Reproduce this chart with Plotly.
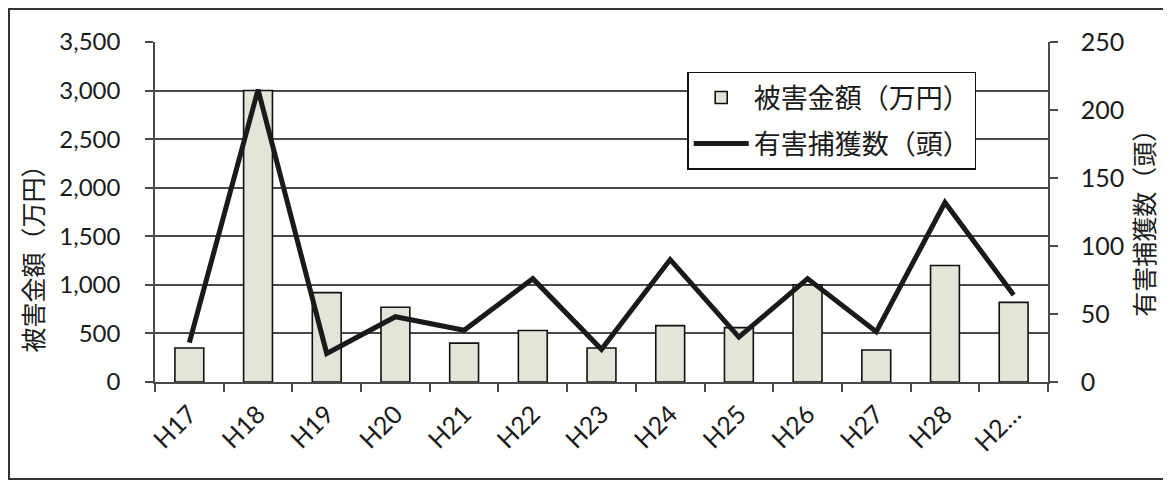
import plotly.graph_objects as go

categories = ["H17", "H18", "H19", "H20", "H21", "H22", "H23", "H24", "H25", "H26", "H27", "H28", "H29"]
tick_labels = ["H17", "H18", "H19", "H20", "H21", "H22", "H23", "H24", "H25", "H26", "H27", "H28", "H2…"]
damage = [350, 3000, 920, 770, 400, 530, 350, 580, 560, 1000, 330, 1200, 820]
captures = [29, 215, 21, 48, 38, 76, 24, 90, 33, 76, 37, 132, 64]

FONT = "Lato, 'Noto Sans CJK JP', sans-serif"
CJK = "'Noto Sans CJK JP', sans-serif"
GRID = "#4a4a4a"

fig = go.Figure()
fig.add_trace(go.Bar(
    x=categories, y=damage, name="被害金額（万円）", legendgroup="a",
    marker=dict(color="#e3e5d9", line=dict(color="#111111", width=1.6)),
    width=0.42, yaxis="y",
))
fig.add_trace(go.Scatter(
    x=categories, y=captures, name="有害捕獲数（頭）", mode="lines", legendgroup="b",
    line=dict(color="#1a1a1a", width=5), yaxis="y2",
))

fig.update_layout(
    width=1163, height=472,
    margin=dict(l=147, r=123, t=34, b=98),
    paper_bgcolor="white", plot_bgcolor="white",
    font=dict(family=FONT, color="#1a1a1a", size=22),
    showlegend=True,
    legend=dict(
        x=0.596, y=0.912, xanchor="left", yanchor="top",
        bgcolor="white", bordercolor="#111111", borderwidth=1.5,
        font=dict(size=27, family=CJK), traceorder="grouped", tracegroupgap=8,
        itemwidth=55,
    ),
    xaxis=dict(
        type="category", tickmode="array", tickvals=categories, ticktext=tick_labels,
        tickangle=-45, tickfont=dict(size=25), showline=True, linecolor=GRID, linewidth=1.5,
        ticks="outside", tickson="boundaries", ticklen=8, tickcolor=GRID, tickwidth=1.5,
        showgrid=False, range=[-0.5, 12.5], ticklabelstandoff=6,
    ),
    yaxis=dict(
        range=[0, 3500], dtick=500, tickformat=",", tickfont=dict(size=24),
        showgrid=True, gridcolor=GRID, gridwidth=1.5, zeroline=False,
        showline=True, linecolor=GRID, linewidth=1.5,
        ticks="outside", ticklen=8, tickcolor=GRID, tickwidth=1.5,
        ticklabelstandoff=20,
    ),
    yaxis2=dict(
        range=[0, 250], dtick=50, overlaying="y", side="right", tickfont=dict(size=25),
        showgrid=False, zeroline=False, showline=True, linecolor=GRID, linewidth=1.5,
        ticks="outside", ticklen=8, tickcolor=GRID, tickwidth=1.5,
        ticklabelstandoff=18,
    ),
    annotations=[
        dict(text="被害金額（万円）", xref="paper", yref="paper", x=-0.138, y=0.38,
             xanchor="center", yanchor="middle",
             textangle=-90, showarrow=False, font=dict(size=25, family=CJK)),
        dict(text="有害捕獲数（頭）", xref="paper", yref="paper", x=1.106, y=0.485,
             xanchor="center", yanchor="middle",
             textangle=-90, showarrow=False, font=dict(size=25, family=CJK)),
    ],
    shapes=[
        dict(type="rect", xref="paper", yref="paper", x0=-0.1635, x1=1.1355, y0=-0.285, y1=1.097,
             line=dict(color="#333333", width=2), fillcolor="rgba(0,0,0,0)", layer="below"),
    ],
)

fig.write_html("out.html")
